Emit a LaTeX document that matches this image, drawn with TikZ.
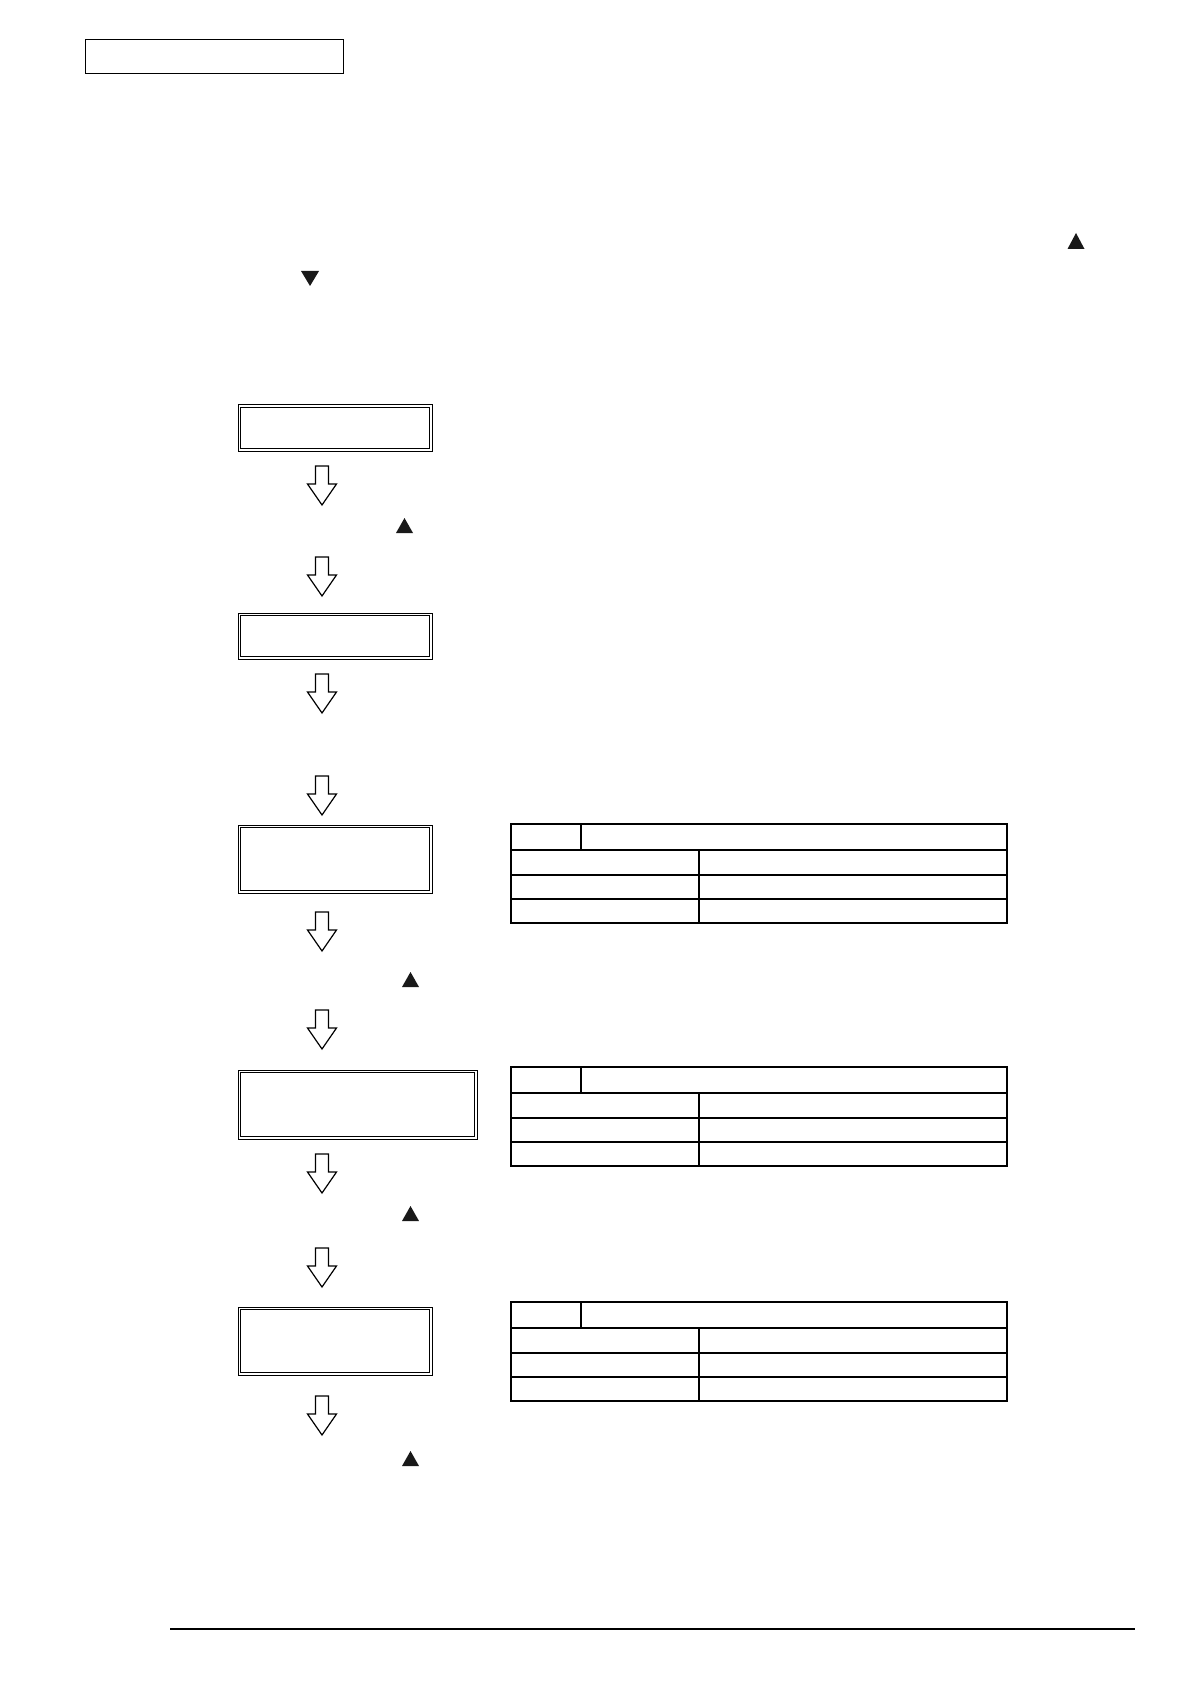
\documentclass[tikz,border=0pt]{standalone}
\usetikzlibrary{calc}
\tikzset{
  lcdbox/.style={draw, line width=0.5pt, inner sep=0pt, outer sep=0pt, rectangle},
  inframe/.style={draw, line width=0.8pt},
  titlebox/.style={draw, line width=0.5pt, inner sep=0pt, outer sep=0pt, rectangle},
  tabouter/.style={line width=1pt},
  tabinner/.style={line width=0.55pt},
  tri/.style={fill=black!90, draw=none},
  blockarrow/.pic={
    \draw[line width=0.6pt, line join=miter, fill=white]
      (-6.5,0) -- (6.5,0) -- (6.5,18) -- (14.5,18) -- (0,39) -- (-14.5,18) -- (-6.5,18) -- cycle;
  }
}
\newcommand\mypartable[1]{%
  \draw[tabouter] (511,#1) rectangle (1007,#1+99);
  \draw[tabinner] (511,#1+26) -- (1007,#1+26);
  \draw[tabinner] (511,#1+51) -- (1007,#1+51);
  \draw[tabinner] (511,#1+75) -- (1007,#1+75);
  \draw[tabinner] (581,#1) -- (581,#1+26);
  \draw[tabinner] (699,#1+26) -- (699,#1+99);
}
\newcommand\myuptri[3]{% cx, ytop, ybottom
  \fill[tri] (#1-8.5,#3) -- (#1+8.5,#3) -- (#1,#2) -- cycle;
}
\newcommand\mydowntri[3]{% cx, ytop, ybottom
  \fill[tri] (#1-9,#2) -- (#1+9,#2) -- (#1,#3) -- cycle;
}
\newcommand\mylcd[1]{%
  \draw[inframe] ($(#1.north west)+(2.5,2.5)$) rectangle ($(#1.south east)+(-2.5,-2.5)$);
}
\begin{document}
\begin{tikzpicture}[x=0.5pt, y=-0.5pt]
\useasboundingbox (0,0) rectangle (1191,1684);
\fill[white] (0,0) rectangle (1191,1684);

% header box
\node[titlebox, minimum width=129pt, minimum height=17pt] (title) at (214,57) {};

% triangles in intro text
\myuptri{1076}{233}{249}
\mydowntri{310}{271}{286}

% LCD boxes
\node[lcdbox, minimum width=97pt, minimum height=23pt] (b1) at (335,428) {};
\mylcd{b1}
\node[lcdbox, minimum width=97pt, minimum height=23pt] (b2) at (335,636) {};
\mylcd{b2}
\node[lcdbox, minimum width=97pt, minimum height=34pt] (b3) at (335,859) {};
\mylcd{b3}
\node[lcdbox, minimum width=119.5pt, minimum height=34.5pt] (b4) at (357.5,1104.5) {};
\mylcd{b4}
\node[lcdbox, minimum width=97pt, minimum height=34pt] (b5) at (335,1341) {};
\mylcd{b5}

% block arrows
\pic at (322,466) {blockarrow};
\pic at (322,557) {blockarrow};
\pic at (322,674) {blockarrow};
\pic at (322,776) {blockarrow};
\pic at (322,912) {blockarrow};
\pic at (322,1010) {blockarrow};
\pic at (322,1154) {blockarrow};
\pic at (322,1248) {blockarrow};
\pic at (322,1396) {blockarrow};

% small triangles
\myuptri{404.5}{518}{533}
\myuptri{410.5}{972}{987}
\myuptri{410.5}{1206}{1221}
\myuptri{410.5}{1451}{1466}

% tables
\mypartable{824}
\mypartable{1067}
\mypartable{1302}

% footer rule
\coordinate (fl) at (170,1629);
\coordinate (fr) at (1135,1629);
\draw[line width=0.8pt] (fl) -- (fr);
\end{tikzpicture}
\end{document}
